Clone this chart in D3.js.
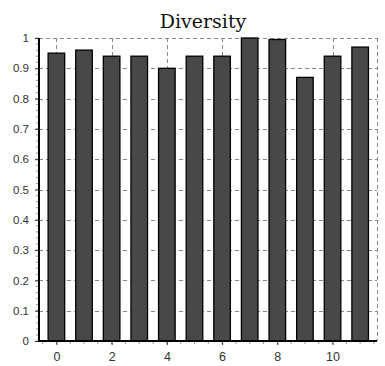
<!DOCTYPE html>
<html>
<head>
<meta charset="utf-8">
<script src="https://cdn.jsdelivr.net/npm/d3@7"></script>
<style>
  body { margin: 0; background: #fff; }
  svg { display: block; }
  .tick text { font-family: "Liberation Sans", Arial, sans-serif; font-size: 11.5px; fill: #333; }
</style>
</head>
<body>
<div id="chart"></div>
<script>
var categories = [0, 1, 2, 3, 4, 5, 6, 7, 8, 9, 10, 11];
var diversity = [0.95, 0.96, 0.94, 0.94, 0.90, 0.94, 0.94, 1.0, 0.995, 0.87, 0.94, 0.97];
var xTickValues = [0, 2, 4, 6, 8, 10];
var yTickValues = [0, 0.1, 0.2, 0.3, 0.4, 0.5, 0.6, 0.7, 0.8, 0.9, 1];

var width = 385, height = 366;
var plotLeft = 39, plotRight = 377, plotTop = 38, plotBottom = 341;

var svg = d3.select("#chart").append("svg")
  .attr("width", width)
  .attr("height", height);

var x = d3.scaleLinear().domain([-0.63, 11.61]).range([plotLeft, plotRight]);
var y = d3.scaleLinear().domain([0, 1]).range([plotBottom, plotTop]);
var barW = x(0.6) - x(0);

// grid
var grid = svg.append("g").attr("stroke", "#888").attr("stroke-dasharray", "4,3").attr("stroke-width", 1);
grid.selectAll("line.h").data(yTickValues.slice(1)).enter().append("line")
  .attr("x1", plotLeft).attr("x2", plotRight)
  .attr("y1", function(d) { return Math.round(y(d)) + 0.5; })
  .attr("y2", function(d) { return Math.round(y(d)) + 0.5; });
grid.selectAll("line.v").data(xTickValues).enter().append("line")
  .attr("y1", plotTop).attr("y2", plotBottom)
  .attr("x1", function(d) { return Math.round(x(d)) + 0.5; })
  .attr("x2", function(d) { return Math.round(x(d)) + 0.5; });
grid.append("line").attr("x1", plotRight + 0.5).attr("x2", plotRight + 0.5).attr("y1", plotTop).attr("y2", plotBottom);

// bars
svg.append("g").selectAll("rect").data(categories).enter().append("rect")
  .attr("x", function(d) { return x(d) - barW / 2; })
  .attr("width", barW)
  .attr("y", function(d, i) { return y(diversity[i]); })
  .attr("height", function(d, i) { return y(0) - y(diversity[i]); })
  .attr("fill", "#484848")
  .attr("stroke", "#000")
  .attr("stroke-width", 1.3);

// minor ticks
var minorY = d3.range(0, 1.0001, 0.02);
svg.append("g").selectAll("line").data(minorY).enter().append("line")
  .attr("x1", plotLeft - 3).attr("x2", plotLeft)
  .attr("y1", function(d) { return y(d); }).attr("y2", function(d) { return y(d); })
  .attr("stroke", "#999");
var minorX = d3.range(-0.5, 11.6, 0.5);
svg.append("g").selectAll("line").data(minorX).enter().append("line")
  .attr("y1", plotBottom).attr("y2", plotBottom + 3)
  .attr("x1", function(d) { return x(d); }).attr("x2", function(d) { return x(d); })
  .attr("stroke", "#999");

// axes
var yAxis = svg.append("g").attr("transform", "translate(" + plotLeft + ",0)")
  .call(d3.axisLeft(y).tickValues(yTickValues).tickFormat(function(d) { return d === 0 || d === 1 ? d : d3.format(".1f")(d); }).tickSize(4).tickPadding(6));
yAxis.select(".domain").remove();
var xAxis = svg.append("g").attr("transform", "translate(0," + plotBottom + ")")
  .call(d3.axisBottom(x).tickValues(xTickValues).tickSize(4).tickPadding(7));
xAxis.select(".domain").remove();
xAxis.selectAll(".tick text").style("font-size", "12.5px");
svg.selectAll(".tick line").attr("stroke", "#333");

svg.append("line").attr("x1", plotLeft).attr("x2", plotLeft).attr("y1", plotTop).attr("y2", plotBottom + 1)
  .attr("stroke", "#000").attr("stroke-width", 2);
svg.append("line").attr("x1", plotLeft - 1).attr("x2", plotRight).attr("y1", plotBottom).attr("y2", plotBottom)
  .attr("stroke", "#000").attr("stroke-width", 2);

// title
svg.append("text")
  .attr("x", 203).attr("y", 28)
  .attr("text-anchor", "middle")
  .attr("font-family", "DejaVu Serif, serif")
  .attr("font-size", 19)
  .attr("fill", "#111")
  .text("Diversity");
</script>
</body>
</html>
